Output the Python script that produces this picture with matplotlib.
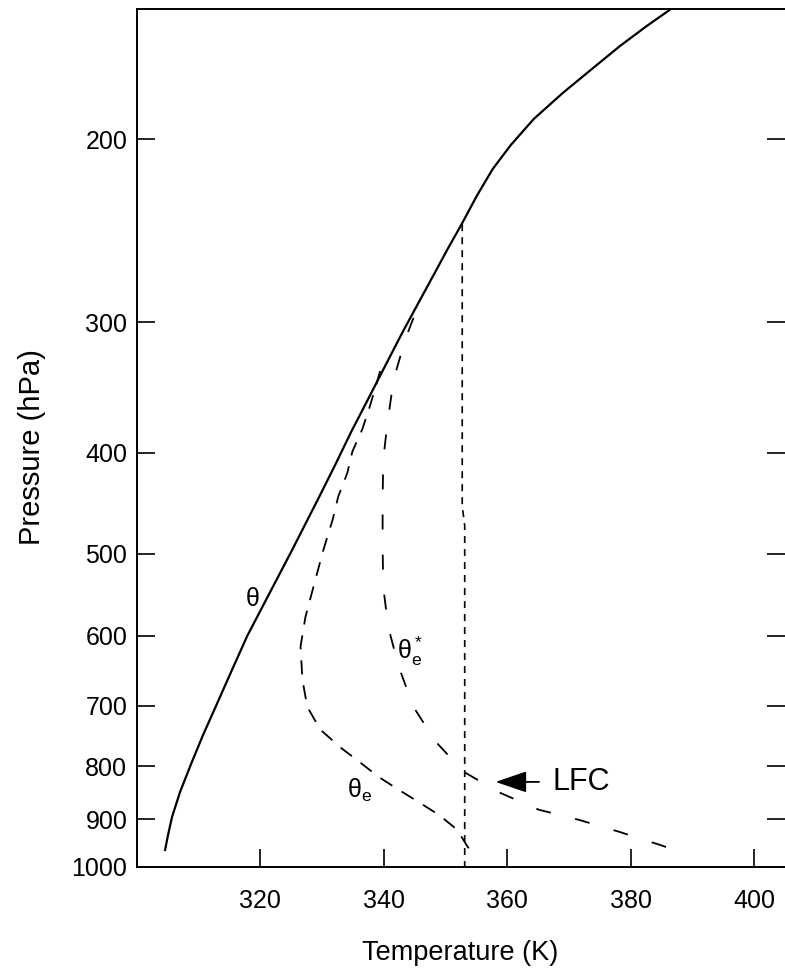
import numpy as np
import matplotlib
matplotlib.use('Agg')
import matplotlib.pyplot as plt
from matplotlib.ticker import FixedLocator, NullLocator, FixedFormatter

plt.rcParams['font.family'] = ['Liberation Sans', 'DejaVu Sans']
plt.rcParams['mathtext.fontset'] = 'custom'
plt.rcParams['mathtext.rm'] = 'Liberation Sans'
plt.rcParams['mathtext.it'] = 'Liberation Sans'
plt.rcParams['mathtext.default'] = 'regular'

# potential temperature theta (solid)
theta_p = [963.0, 931.6, 895.2, 847.0, 796.1, 746.6, 700.0, 649.4, 600.0, 548.8,
           497.9, 440.8, 410.7, 381.7, 354.9, 329.8, 306.6, 283.7, 269.1, 255.1,
           241.4, 226.9, 213.7, 202.7, 191.3, 180.6, 171.3, 162.8, 155.7, 149.3]
theta_T = [304.55, 305.03, 305.68, 306.98, 308.77, 310.71, 312.82, 315.26, 317.86,
           321.27, 325.00, 329.55, 332.14, 334.74, 337.50, 340.26, 343.02, 346.10,
           348.21, 350.32, 352.60, 355.03, 357.63, 360.55, 364.29, 368.99, 373.70,
           378.25, 382.63, 387.01]

# equivalent potential temperature theta_e (dashed)
thetae_p = [334, 360, 380, 399, 418, 441, 464, 496, 538, 575, 614, 661, 702, 738,
            768, 794, 819, 843, 866, 891, 921, 957, 974]
thetae_T = [339.4, 337.8, 336.5, 334.9, 334.1, 332.6, 331.7, 330.2, 328.6, 327.3,
            326.5, 326.8, 327.6, 329.7, 333.0, 336.2, 339.1, 342.4, 345.6, 348.9,
            351.9, 353.6, 355.0]

# saturated equivalent potential temperature theta_e* (dashed)
thetaes_p = [297, 311, 340, 374, 406, 444, 492, 538, 588, 642, 702, 758, 810, 849,
             881, 901, 925, 953, 959]
thetaes_T = [344.8, 343.5, 341.6, 340.6, 339.9, 339.8, 339.8, 339.9, 340.7, 342.4,
             344.8, 348.4, 352.9, 358.9, 365.1, 371.6, 378.1, 384.9, 386.2]

# lifted parcel theta_e (short dashes)
parcel_p = [241.4, 450, 470, 1000]
parcel_T = [352.7, 352.7, 353.1, 353.1]

y_ticks = [200, 300, 400, 500, 600, 700, 800, 900, 1000]
x_ticks = [320, 340, 360, 380, 400]

fig = plt.figure(figsize=(7.85, 9.69), dpi=100)
ax = fig.add_axes([137/785, 102/969, 1 - 137/785, (867 - 9)/969])

ax.plot(theta_T, theta_p, color='black', lw=1.6)
ax.plot(thetae_T, thetae_p, color='black', lw=1.3, linestyle=(0, (7.8, 6.1)))
ax.plot(thetaes_T, thetaes_p, color='black', lw=1.3, linestyle=(0, (8.3, 13.9)))
ax.plot(parcel_T, parcel_p, color='black', lw=1.2, linestyle=(0, (4.2, 3.6)))

ax.set_yscale('log')
ax.set_ylim(1000, 150)
ax.set_xlim(300, 405)
ax.yaxis.set_major_locator(FixedLocator(y_ticks))
ax.yaxis.set_major_formatter(FixedFormatter([str(v) for v in y_ticks]))
ax.yaxis.set_minor_locator(NullLocator())
ax.xaxis.set_major_locator(FixedLocator(x_ticks))
ax.xaxis.set_minor_locator(NullLocator())

ax.tick_params(axis='both', direction='in', length=13, width=1.2, labelsize=18)
ax.tick_params(axis='y', right=True, pad=7)
ax.tick_params(axis='x', pad=16)
ax.spines['right'].set_visible(False)
for s in ['left', 'top', 'bottom']:
    ax.spines[s].set_linewidth(1.4)

ax.set_xlabel('Temperature (K)', fontsize=19.5)
ax.set_ylabel('Pressure (hPa)', fontsize=21)
ax.xaxis.set_label_coords(0.498, -0.085)
ax.yaxis.set_label_coords(-0.140, 0.4895)

ax.text(318.7, 553, '$θ$', fontsize=18, ha='center', va='center')
ax.text(336.0, 845, '$θ_e$', fontsize=18, ha='center', va='center')
ax.text(344.2, 621, '$θ_e^*$', fontsize=18, ha='center', va='center')

ax.annotate('LFC', xy=(358.1, 828.5), xytext=(367.4, 828.5), fontsize=22,
            ha='left', va='center',
            arrowprops=dict(arrowstyle='-|>,head_length=0.88,head_width=0.3',
                            color='black', lw=1.3, shrinkA=8, shrinkB=0))

fig.savefig('out.png', dpi=100)
